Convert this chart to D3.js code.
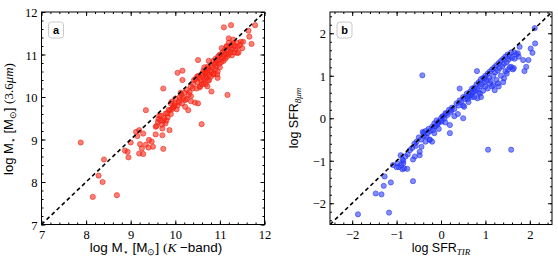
<!DOCTYPE html>
<html>
<head>
<meta charset="utf-8">
<style>
  body { margin: 0; background: #fff; }
  .tick text { font-family: "Liberation Serif", serif; font-size: 12.5px; }
  .lab { font-family: "Liberation Sans", Arial, sans-serif; font-size: 12.5px; }
  .math { font-family: "Liberation Serif", serif; font-style: italic; }
</style>
</head>
<body>
<svg id="chart"></svg>
<script src="https://cdn.jsdelivr.net/npm/d3@7"></script>
<script>
// panel a: stellar mass, K-band vs 3.6 micron
var massK = [7.88, 8.15, 8.28, 8.37, 8.40, 8.69, 8.87, 8.93, 8.95, 9.00, 9.12, 9.19, 9.15, 9.21, 9.19, 9.25, 9.28, 9.34, 9.28, 9.40,
  9.41, 9.47, 9.50, 9.34, 9.56, 9.56, 9.61, 9.64, 9.71, 9.71, 9.73, 9.68, 9.73, 9.78, 9.78, 9.83, 9.87, 9.88, 9.92, 9.73,
  9.96, 10.00, 10.03, 10.10, 10.14, 10.05, 10.16, 10.16, 10.22, 10.22, 10.26, 10.29, 10.35, 10.39, 10.44, 10.51, 10.42, 10.49, 10.51, 10.55,
  10.59, 10.63, 10.68, 10.72, 10.76, 10.81, 10.85, 10.91, 10.94, 10.99, 11.04, 11.09, 11.17, 11.20, 11.25, 11.30, 11.39, 11.47, 11.64, 11.66,
  11.71, 11.79, 11.15,
  10.45, 10.50, 10.52, 10.55, 10.58, 10.60, 10.62, 10.63, 10.65, 10.66, 10.68, 10.70, 10.70, 10.72, 10.73, 10.75, 10.76, 10.78, 10.80, 10.80,
  10.82, 10.84, 10.85, 10.86, 10.88, 10.90, 10.90, 10.92, 10.94, 10.95, 10.96, 10.98, 11.00, 11.00, 11.02, 11.03, 11.05, 11.06, 11.08, 11.10,
  11.10, 11.12, 11.14, 11.15, 11.16, 11.18, 11.20, 11.20, 11.22, 11.24, 11.25, 11.27, 11.28, 11.30, 11.32, 11.33, 11.35, 11.38, 11.40, 11.42,
  11.45, 11.50, 11.52, 10.40, 10.35, 10.48, 10.55, 10.60, 10.65, 10.68, 10.72, 10.75, 10.95, 10.20, 10.25, 10.30, 10.05, 10.00, 9.95, 9.90,
  9.85, 9.80, 9.75, 9.70, 9.90, 10.10, 10.15, 10.35, 9.62, 9.82, 9.98, 10.08, 10.12, 10.18, 9.58, 9.66, 9.93, 10.32];
var mass36 = [8.93, 7.65, 8.15, 8.00, 8.53, 7.69, 8.74, 8.71, 8.58, 8.93, 9.18, 9.22, 9.08, 8.89, 8.67, 8.79, 8.66, 8.88, 9.14, 8.81,
  8.99, 8.95, 8.83, 9.69, 9.12, 9.30, 9.41, 9.56, 9.26, 9.10, 8.78, 9.56, 9.44, 9.61, 9.38, 9.52, 9.22, 9.69, 9.89, 10.20,
  9.77, 9.96, 9.71, 9.93, 10.05, 10.57, 10.40, 10.62, 9.93, 9.77, 10.17, 9.69, 10.02, 10.20, 9.87, 9.85, 10.40, 10.48, 10.87, 10.23,
  9.36, 10.33, 10.56, 10.71, 10.40, 10.13, 10.53, 10.80, 10.53, 10.99, 11.15, 11.64, 10.05, 11.38, 11.69, 11.26, 11.03, 11.30, 11.56, 11.42,
  11.25, 11.69, 11.18,
  10.42, 10.35, 10.50, 10.45, 10.38, 10.55, 10.48, 10.62, 10.42, 10.58, 10.50, 10.65, 10.45, 10.58, 10.38, 10.68, 10.52, 10.62, 10.75, 10.48,
  10.60, 10.70, 10.85, 10.55, 10.78, 10.65, 10.90, 10.72, 10.85, 10.60, 10.95, 10.78, 10.88, 10.70, 11.00, 10.82, 10.92, 11.05, 10.85, 10.98,
  11.10, 10.90, 11.02, 11.20, 10.95, 11.10, 11.00, 11.28, 11.15, 11.05, 11.22, 10.98, 11.12, 11.35, 11.05, 11.20, 11.12, 11.28, 11.18, 11.05,
  11.22, 11.15, 11.30, 10.30, 10.25, 10.20, 10.25, 10.30, 10.70, 10.30, 10.25, 10.85, 10.45, 10.10, 9.95, 10.05, 9.80, 9.85, 9.75, 9.60,
  9.70, 9.45, 9.50, 9.35, 9.85, 10.00, 9.85, 9.90, 9.48, 9.62, 9.80, 9.88, 10.10, 9.98, 9.32, 9.45, 9.72, 10.12];

// panel b: star formation rate, TIR vs 8 micron
var sfrTIR = [-1.87, -1.17, -1.47, -1.34, -1.29, -1.27, -1.13, -1.08, -0.98, -0.91, -0.87, -0.85, -0.87, -0.76, -0.83, -0.63, -0.59, -0.63, -0.57, -0.48,
  -0.48, -0.42, -0.44, -0.41, -0.33, -0.26, -0.20, -0.14, -0.07, 0.01, 0.03, 0.12, 0.20, 0.20, 0.23, 0.38, 0.50, 0.52, 0.42, 0.63,
  0.72, 0.82, 0.81, 1.06, 1.58, 0.98, 1.10, 1.21, 1.28, 1.42, 1.51, 1.64, 1.73, 1.77, 1.85, 1.88, 1.92, 1.97, 2.02, 2.06,
  2.12, 2.11, 1.58, 1.66,
  -0.55, -0.50, -0.45, -0.40, -0.38, -0.35, -0.30, -0.28, -0.25, -0.20, -0.18, -0.15, -0.12, -0.10, -0.08, -0.05, 0.00, 0.02, 0.05, 0.08,
  0.10, 0.15, 0.18, 0.22, 0.25, 0.30, 0.35, 0.40, 0.42, 0.45, 0.50, 0.55, 0.58, 0.60, 0.65, 0.68, 0.70, 0.72, 0.75, 0.78,
  0.80, 0.82, 0.85, 0.88, 0.90, 0.92, 0.95, 0.98, 1.00, 1.02, 1.05, 1.08, 1.10, 1.12, 1.15, 1.18, 1.20, 1.22, 1.25, 1.28,
  1.30, 1.32, 1.35, 1.38, 1.40, 1.42, 1.45, 1.48, 1.50, 1.52, 1.55, 1.58, 1.60, 1.65, 1.70, 1.75, 0.85, 0.90, 0.95, 1.00,
  1.05, 1.15, 1.25, 1.35, 1.45, 1.55, 0.70, 0.75, 0.60, -0.60, -0.65, -0.70, -0.75, -0.80, -0.85, -0.90, -0.95, -1.00, -0.35, -0.25,
  -0.15, -0.05, 0.10, 0.30, 0.50, 1.30, 1.40, 1.62, 1.48, 1.18, 0.88, 0.62];
var sfr8 = [-2.26, -2.22, -1.77, -1.79, -1.59, -1.37, -1.51, -1.10, -1.06, -0.87, -0.97, -1.06, -1.20, -1.19, -1.18, -1.48, -0.90, -0.97, -0.65, -0.79,
  -0.87, 1.01, -0.67, -0.32, -0.43, -0.51, -0.55, -0.20, -0.12, -0.08, 0.04, 0.11, -0.16, -0.35, 0.19, 0.10, 0.00, 0.27, 0.70, 0.51,
  0.63, 0.47, 1.11, -0.74, -0.74, 0.94, 0.82, 0.66, 0.82, 0.94, 1.14, 1.18, 1.53, 1.68, 1.37, 1.11, 1.21, 1.37, 1.64, 1.54,
  1.76, 2.12, 1.21, 1.40,
  -0.55, -0.45, -0.50, -0.35, -0.42, -0.30, -0.35, -0.25, -0.30, -0.20, -0.28, -0.12, -0.18, -0.05, -0.15, -0.08, 0.00, -0.05, 0.05, 0.00,
  0.12, 0.08, 0.20, 0.15, 0.25, 0.22, 0.35, 0.30, 0.42, 0.38, 0.50, 0.45, 0.58, 0.52, 0.62, 0.55, 0.70, 0.60, 0.72, 0.65,
  0.80, 0.70, 0.85, 0.75, 0.92, 0.80, 0.95, 0.85, 1.00, 0.90, 1.05, 0.95, 1.10, 0.88, 1.15, 1.00, 1.20, 1.08, 1.25, 1.12,
  1.30, 1.18, 1.35, 1.22, 1.40, 1.28, 1.45, 1.32, 1.50, 1.38, 1.45, 1.55, 1.42, 1.55, 1.50, 1.45, 0.60, 0.50, 0.65, 0.75,
  0.70, 0.75, 0.90, 1.00, 1.10, 1.20, 0.50, 0.50, 0.45, -0.60, -0.70, -0.75, -0.85, -0.90, -1.00, -1.10, -1.15, -1.15, -0.55, -0.50,
  -0.35, -0.25, -0.10, 0.05, 0.30, 0.75, 0.85, 1.15, 1.05, 0.78, 0.58, 0.38];

var domainA = [7, 12], domainB = [-2.5, 2.5];
var ticksA = [7, 8, 9, 10, 11, 12], ticksB = [-2, -1, 0, 1, 2];

var width = 558, height = 264;
var svg = d3.select('#chart').attr('width', width).attr('height', height);

function minorTicks(dom) {
  var out = [];
  for (var v = Math.ceil(dom[0] * 5); v <= Math.floor(dom[1] * 5); v++) out.push(v / 5);
  return out;
}

function fmt(d) { return d < 0 ? '\u2212' + Math.abs(d) : '' + d; }

function panel(opt) {
  var g = svg.append('g');
  var x = d3.scaleLinear().domain(opt.domain).range([opt.left, opt.right]);
  var y = d3.scaleLinear().domain(opt.domain).range([opt.bottom, opt.top]);
  var w = opt.right - opt.left, h = opt.bottom - opt.top;

  // ticks on all four sides, pointing inward
  var minor = minorTicks(opt.domain);
  var addAxis = function(axis, tr, labels, len) {
    var a = g.append('g').attr('transform', tr)
      .call(axis.tickSizeInner(-len).tickSizeOuter(0).tickPadding(4));
    a.select('.domain').remove();
    a.selectAll('line').attr('stroke', '#000').attr('stroke-width', 1);
    if (!labels) a.selectAll('text').remove();
    return a;
  };
  var tb = 'translate(0,' + opt.bottom + ')', tt = 'translate(0,' + opt.top + ')';
  var tl = 'translate(' + opt.left + ',0)', trr = 'translate(' + opt.right + ',0)';
  addAxis(d3.axisBottom(x).tickValues(minor), tb, false, 2);
  addAxis(d3.axisTop(x).tickValues(minor), tt, false, 2);
  addAxis(d3.axisLeft(y).tickValues(minor), tl, false, 2);
  addAxis(d3.axisRight(y).tickValues(minor), trr, false, 2);
  var ab = addAxis(d3.axisBottom(x).tickValues(opt.ticks).tickFormat(fmt), tb, true, 4);
  addAxis(d3.axisTop(x).tickValues(opt.ticks), tt, false, 4);
  var al = addAxis(d3.axisLeft(y).tickValues(opt.ticks).tickFormat(fmt), tl, true, 4);
  addAxis(d3.axisRight(y).tickValues(opt.ticks), trr, false, 4);
  ab.selectAll('text').attr('dy', '0.8em').attr('fill', '#000');
  al.selectAll('text').attr('dy', '0.36em').attr('fill', '#000');

  var cid = 'clip' + opt.name;
  g.append('clipPath').attr('id', cid).append('rect')
    .attr('x', opt.left).attr('y', opt.top).attr('width', w).attr('height', h);

  var pts = g.append('g').attr('clip-path', 'url(#' + cid + ')');
  pts.selectAll('circle').data(opt.xs.map(function(d, i) { return [d, opt.ys[i]]; }))
    .enter().append('circle')
    .attr('cx', function(d) { return x(d[0]); })
    .attr('cy', function(d) { return y(d[1]); })
    .attr('r', 2.6)
    .attr('fill', opt.fill).attr('fill-opacity', 0.6)
    .attr('stroke', opt.stroke).attr('stroke-opacity', 0.7).attr('stroke-width', 0.8);

  // 1:1 line
  pts.append('line')
    .attr('x1', x(opt.domain[0])).attr('y1', y(opt.domain[0]))
    .attr('x2', x(opt.domain[1])).attr('y2', y(opt.domain[1]))
    .attr('stroke', '#000').attr('stroke-width', 1.6).attr('stroke-dasharray', '4,3');

  g.append('rect').attr('x', opt.left).attr('y', opt.top).attr('width', w).attr('height', h)
    .attr('fill', 'none').attr('stroke', '#000').attr('stroke-width', 1);

  // panel tag
  g.append('rect').attr('x', opt.left + 7).attr('y', opt.top + 10).attr('width', 15).attr('height', 16)
    .attr('rx', 3).attr('fill', '#fff').attr('stroke', '#bbb').attr('stroke-width', 0.8);
  g.append('text').attr('x', opt.left + 14.5).attr('y', opt.top + 22)
    .attr('text-anchor', 'middle').attr('class', 'lab')
    .style('font-weight', 'bold').style('font-size', '11px').text(opt.name);

  return { x: x, y: y, g: g };
}

panel({ name: 'a', domain: domainA, ticks: ticksA, left: 41.5, right: 264.5, top: 12, bottom: 224.5,
  xs: massK, ys: mass36, fill: '#ff2a1a', stroke: '#e8200f' });
panel({ name: 'b', domain: domainB, ticks: ticksB, left: 330, right: 552, top: 12, bottom: 224.5,
  xs: sfrTIR, ys: sfr8, fill: '#3040ff', stroke: '#2233ee' });

// axis labels
var xa = svg.append('text').attr('class', 'lab').attr('x', 156).attr('y', 252).attr('text-anchor', 'middle')
  .style('font-size', '13.5px');
xa.append('tspan').text('log M');
xa.append('tspan').attr('dy', 3).style('font-size', '9px').text('\u22c6');
xa.append('tspan').attr('dy', -3).text(' [M');
xa.append('tspan').attr('dy', 3).style('font-size', '9px').text('\u2299');
xa.append('tspan').attr('dy', -3).text('] ');
xa.append('tspan').attr('class', 'math').style('font-style', 'normal').text('(');
xa.append('tspan').attr('class', 'math').text('K ');
xa.append('tspan').text('\u2212band)');

var ya = svg.append('text').attr('class', 'lab').attr('transform', 'translate(13,119) rotate(-90)').attr('text-anchor', 'middle')
  .style('font-size', '13px');
ya.append('tspan').text('log M');
ya.append('tspan').attr('dy', 3).style('font-size', '9px').text('\u22c6');
ya.append('tspan').attr('dy', -3).text(' [M');
ya.append('tspan').attr('dy', 3).style('font-size', '9px').text('\u2299');
ya.append('tspan').attr('dy', -3).text('] ');
ya.append('tspan').attr('class', 'math').style('font-style', 'normal').text('(3.6');
ya.append('tspan').attr('class', 'math').text('\u03bcm');
ya.append('tspan').attr('class', 'math').style('font-style', 'normal').text(')');

var xb = svg.append('text').attr('class', 'lab').attr('x', 441).attr('y', 252).attr('text-anchor', 'middle');
xb.append('tspan').text('log SFR');
xb.append('tspan').attr('class', 'math').attr('dy', 3).style('font-size', '9px').text('TIR');

var yb = svg.append('text').attr('class', 'lab').attr('transform', 'translate(298,118) rotate(-90)').attr('text-anchor', 'middle');
yb.append('tspan').text('log SFR');
yb.append('tspan').attr('class', 'math').attr('dy', 3).style('font-size', '9px').text('8\u03bcm');
</script>
</body>
</html>
